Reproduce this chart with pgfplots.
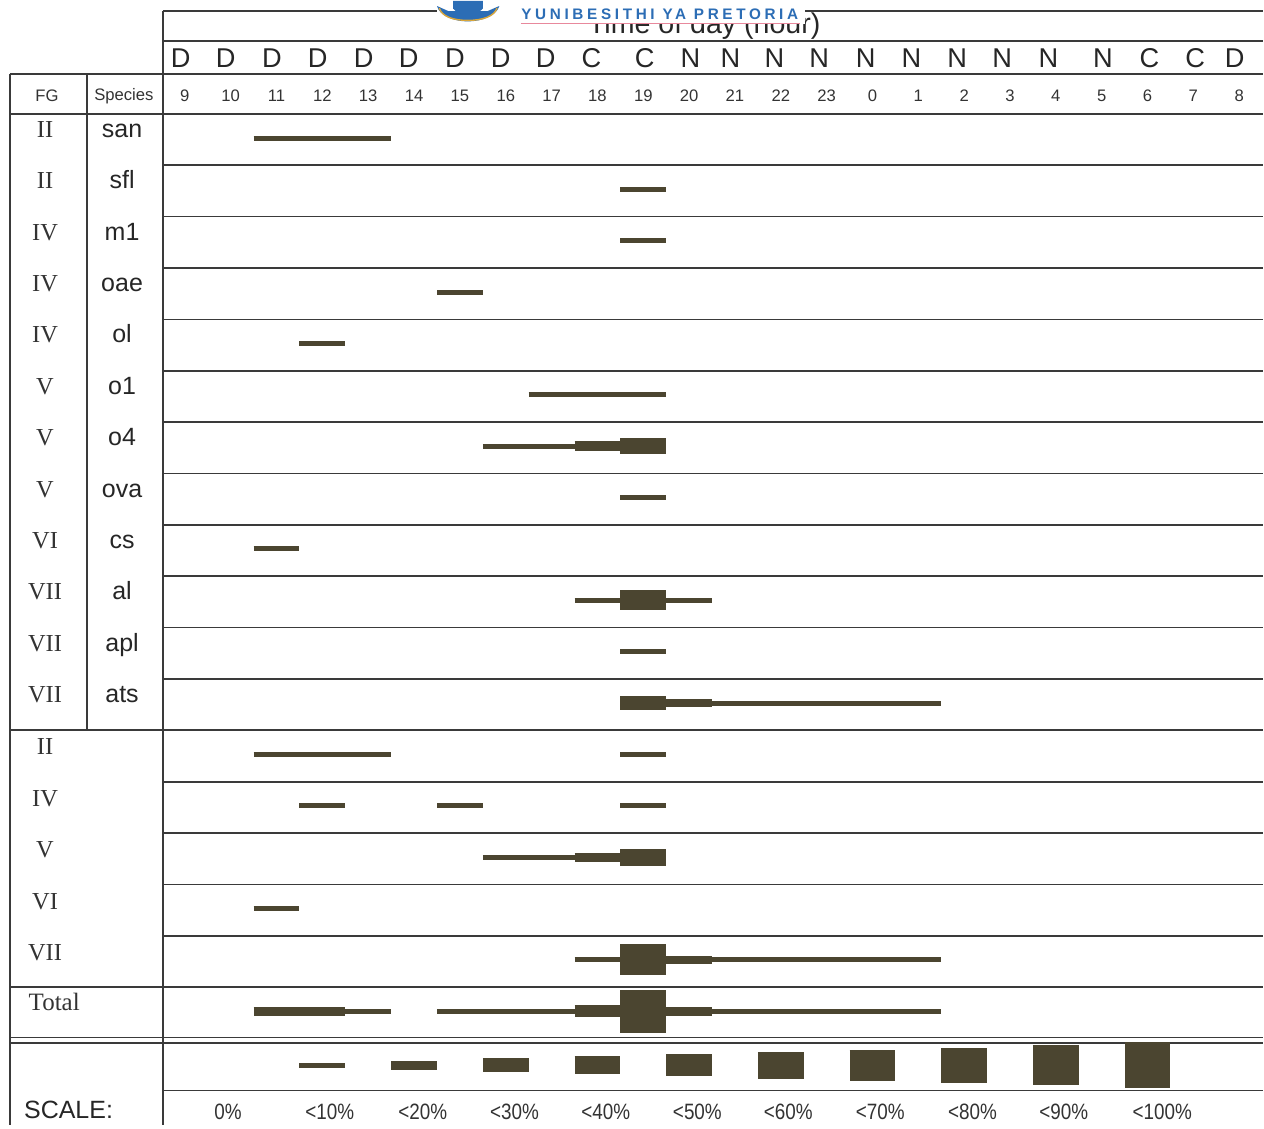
\documentclass[border=0pt]{standalone}
\usepackage{pgfplots}
\pgfplotsset{compat=1.18}
\usepackage{graphicx}
\usepackage{fontspec}
\setmainfont{Liberation Serif}
\setsansfont{Liberation Sans}
\newfontfamily\logofont[LetterSpace=24]{Liberation Sans}
\definecolor{barc}{HTML}{4B4530}
\definecolor{gridc}{HTML}{3A3A3A}
\definecolor{logoblue}{HTML}{2C6DB5}
\definecolor{logopink}{HTML}{E8889C}
\definecolor{logogold}{HTML}{D9A63A}

% one bar segment: y, from, to, thickness (px of the original)
\newcommand{\seg}[4]{\addplot[barc, line width=#4*0.36pt] coordinates {(#2,#1) (#3,#1)};}
\def\hr#1/#2;{\node[font=\sffamily\fontsize{6}{7}\selectfont, text=black!80] at (axis cs:#1,0.35) {#2};}
\def\dcn#1/#2;{\node[font=\sffamily\fontsize{9.8}{11}\selectfont, text=black!85] at (axis cs:#1,1.09) {#2};}
\def\rowlab#1/#2/#3;{%
  \node[anchor=base, font=\rmfamily\fontsize{8.8}{10}\selectfont, text=black!80] at (axis cs:-3.05,#1) {#2};%
  \node[anchor=base, font=\sffamily\fontsize{9}{10}\selectfont, text=black!85] at (axis cs:-1.37,#1) {#3};}
\def\fglab#1/#2;{\node[anchor=base, font=\rmfamily\fontsize{8.8}{10}\selectfont, text=black!80] at (axis cs:-3.05,#1) {#2};}
\def\sclab#1/#2;{\node[anchor=base, font=\sffamily\fontsize{8}{9}\selectfont, text=black!80] at (axis cs:#1,-19.57) {\scalebox{0.85}[1]{#2}};}
\def\hline#1/#2;{\draw[gridc, line width=0.6pt] (axis cs:#2,#1) -- (axis cs:23.523,#1);}

\begin{document}
\begin{tikzpicture}
\begin{axis}[
  scale only axis,
  width=16cm, height=14.241cm,
  xmin=-4.033, xmax=23.523,
  ymin=-19.689, ymax=2.198,
  hide axis,
  clip=false,
]
\path (axis cs:-4.033,-19.689) (axis cs:23.523,2.198);

% ---- grid lines
\pgfplotsinvokeforeach{2.0/-0.48, 1.42/-0.48, 0.778/-3.815, 0/-3.815,
  -1/-0.48, -2/-0.48, -3/-0.48, -4/-0.48, -5/-0.48, -6/-0.48, -7/-0.48,
  -8/-0.48, -9/-0.48, -10/-0.48, -11/-0.48, -12/-3.815,
  -13/-0.48, -14/-0.48, -15/-0.48, -16/-0.48, -17/-3.815,
  -17.98/-3.815, -18.09/-3.815, -19.01/-0.48}{\hline#1;}
\draw[gridc, line width=0.6pt] (axis cs:-3.815,0.778) -- (axis cs:-3.815,-19.689);
\draw[gridc, line width=0.6pt] (axis cs:-2.136,0.778) -- (axis cs:-2.136,-12);
\draw[gridc, line width=0.6pt] (axis cs:-0.48,2.0) -- (axis cs:-0.48,-19.689);

% ---- header
\node[anchor=base, font=\sffamily\fontsize{10.3}{12}\selectfont, text=black!85] at (axis cs:11.33,1.556) {Time of day (hour)};
\pgfplotsinvokeforeach{-0.09/D, 0.89/D, 1.9/D, 2.9/D, 3.9/D, 4.88/D, 5.89/D, 6.89/D, 7.87/D,
  8.87/C, 10.03/C, 11.03/N, 11.9/N, 12.86/N, 13.84/N, 14.85/N, 15.85/N, 16.85/N, 17.83/N,
  18.84/N, 20.03/N, 21.04/C, 22.04/C, 22.9/D}{\dcn#1;}
\pgfplotsinvokeforeach{0/9, 1/10, 2/11, 3/12, 4/13, 5/14, 6/15, 7/16, 8/17, 9/18, 10/19,
  11/20, 12/21, 13/22, 14/23, 15/0, 16/1, 17/2, 18/3, 19/4, 20/5, 21/6, 22/7, 23/8}{\hr#1;}
\node[font=\sffamily\fontsize{6}{7}\selectfont, text=black!80] at (axis cs:-3.01,0.35) {FG};
\node[font=\sffamily\fontsize{6}{7}\selectfont, text=black!80] at (axis cs:-1.33,0.35) {Species};

% ---- row labels
\pgfplotsinvokeforeach{-0.46/II/san, -1.46/II/sfl, -2.46/IV/m1, -3.46/IV/oae, -4.46/IV/ol,
  -5.46/V/o1, -6.46/V/o4, -7.46/V/ova, -8.46/VI/cs, -9.46/VII/al, -10.46/VII/apl,
  -11.46/VII/ats}{\rowlab#1;}
\pgfplotsinvokeforeach{-12.48/II, -13.48/IV, -14.48/V, -15.48/VI, -16.48/VII}{\fglab#1;}
\node[anchor=base west, font=\rmfamily\fontsize{9}{10}\selectfont, text=black!80] at (axis cs:-3.62,-17.45) {Total};
\node[anchor=base west, font=\sffamily\fontsize{9}{10}\selectfont, text=black!85] at (axis cs:-3.72,-19.55) {SCALE:};

% ---- bars (rows: y, start, end, thickness)
\seg{-0.47}{1.5}{4.5}{5}
\seg{-1.47}{9.5}{10.5}{5}
\seg{-2.47}{9.5}{10.5}{5}
\seg{-3.47}{5.5}{6.5}{5}
\seg{-4.47}{2.5}{3.5}{5}
\seg{-5.47}{7.5}{10.5}{5}
\seg{-6.47}{6.5}{8.5}{5}
\seg{-6.47}{8.5}{9.5}{10}
\seg{-6.47}{9.5}{10.5}{16}
\seg{-7.47}{9.5}{10.5}{5}
\seg{-8.47}{1.5}{2.5}{5}
\seg{-9.47}{8.5}{9.5}{5}
\seg{-9.47}{9.5}{10.5}{20}
\seg{-9.47}{10.5}{11.5}{5}
\seg{-10.47}{9.5}{10.5}{5}
\seg{-11.47}{9.5}{10.5}{14}
\seg{-11.47}{10.5}{11.5}{8}
\seg{-11.47}{11.5}{16.5}{5}
\seg{-12.47}{1.5}{4.5}{5}
\seg{-12.47}{9.5}{10.5}{5}
\seg{-13.47}{2.5}{3.5}{5}
\seg{-13.47}{5.5}{6.5}{5}
\seg{-13.47}{9.5}{10.5}{5}
\seg{-14.47}{6.5}{8.5}{5}
\seg{-14.47}{8.5}{9.5}{9}
\seg{-14.47}{9.5}{10.5}{17}
\seg{-15.47}{1.5}{2.5}{5}
\seg{-16.47}{8.5}{9.5}{5}
\seg{-16.47}{9.5}{10.5}{31}
\seg{-16.47}{10.5}{11.5}{8}
\seg{-16.47}{11.5}{16.5}{5}
\seg{-17.47}{1.5}{3.5}{9}
\seg{-17.47}{3.5}{4.5}{5}
\seg{-17.47}{5.5}{8.5}{5}
\seg{-17.47}{8.5}{9.5}{12}
\seg{-17.47}{9.5}{10.5}{43}
\seg{-17.47}{10.5}{11.5}{9}
\seg{-17.47}{11.5}{16.5}{5}

% ---- scale
\seg{-18.52}{2.5}{3.5}{5}
\seg{-18.52}{4.5}{5.5}{9.3}
\seg{-18.52}{6.5}{7.5}{14}
\seg{-18.52}{8.5}{9.5}{18.3}
\seg{-18.52}{10.5}{11.5}{22.3}
\seg{-18.52}{12.5}{13.5}{26.7}
\seg{-18.52}{14.5}{15.5}{31}
\seg{-18.52}{16.5}{17.5}{35}
\seg{-18.52}{18.5}{19.5}{39.7}
\seg{-18.52}{20.5}{21.5}{46}
\pgfplotsinvokeforeach{0.94/0\%, 3.16/<10\%, 5.19/<20\%, 7.19/<30\%, 9.18/<40\%, 11.18/<50\%,
  13.16/<60\%, 15.17/<70\%, 17.18/<80\%, 19.17/<90\%, 21.32/<100\%}{\sclab#1;}

% ---- watermark
\fill[white] (axis cs:5.49,2.198) rectangle (axis cs:13.52,1.751);
\fill[logoblue] (axis cs:5.5,2.10) .. controls (axis cs:5.55,1.92) and (axis cs:5.85,1.80) .. (axis cs:6.17,1.80)
  .. controls (axis cs:6.5,1.80) and (axis cs:6.8,1.92) .. (axis cs:6.86,2.10) -- (axis cs:6.6,2.0) -- (axis cs:5.75,2.0) -- cycle;
\draw[logogold, line width=0.5pt] (axis cs:5.55,2.06) .. controls (axis cs:5.6,1.9) and (axis cs:5.85,1.82) .. (axis cs:6.17,1.82)
  .. controls (axis cs:6.5,1.82) and (axis cs:6.75,1.9) .. (axis cs:6.81,2.06);
\fill[logoblue] (axis cs:5.85,2.198) -- (axis cs:5.85,2.05) .. controls (axis cs:5.95,1.95) and (axis cs:6.05,1.93) .. (axis cs:6.17,1.92)
  .. controls (axis cs:6.3,1.93) and (axis cs:6.4,1.95) .. (axis cs:6.5,2.05) -- (axis cs:6.5,2.198) -- cycle;
\node[anchor=base, font=\logofont\bfseries\fontsize{5.5}{6}\selectfont, text=logoblue] at (axis cs:10.36,1.83) {YUNIBESITHI YA PRETORIA};
\draw[logopink, line width=0.55pt] (axis cs:7.33,1.755) -- (axis cs:13.41,1.755);
\end{axis}
\end{tikzpicture}
\end{document}
